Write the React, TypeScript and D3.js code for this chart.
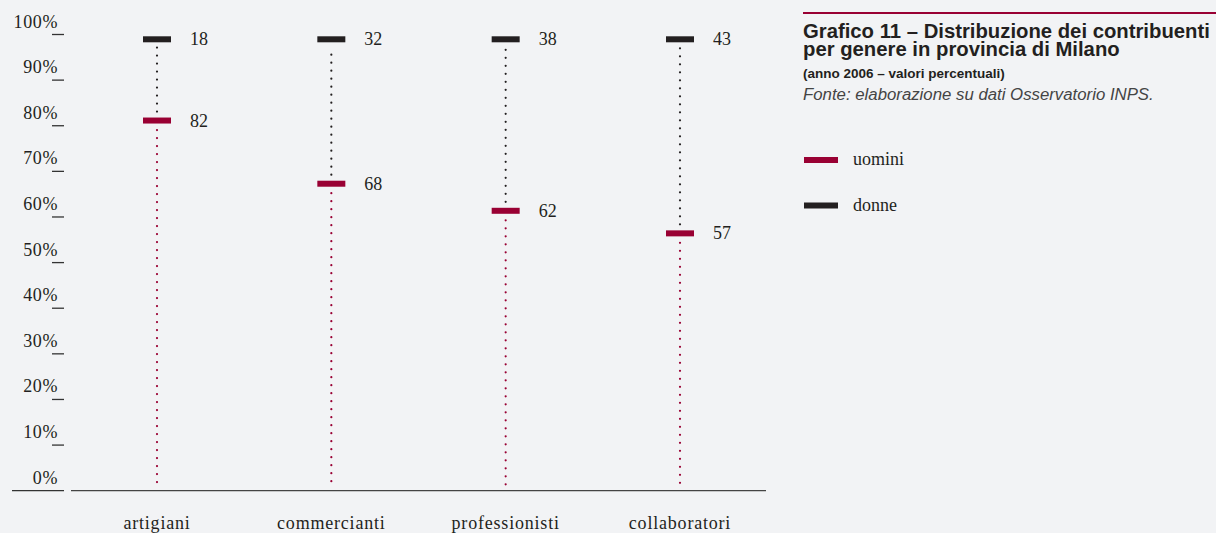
import React from "react";
import * as d3 from "d3";

const categories = ["artigiani", "commercianti", "professionisti", "collaboratori"];
const uomini = [82, 68, 62, 57];
const donne = [18, 32, 38, 43];
const yTicks = [0, 10, 20, 30, 40, 50, 60, 70, 80, 90, 100];
const titleLines = [
  "Grafico 11 – Distribuzione dei contribuenti",
  "per genere in provincia di Milano",
];
const subtitle = "(anno 2006 – valori percentuali)";
const source = "Fonte: elaborazione su dati Osservatorio INPS.";
const legendItems = ["uomini", "donne"];

const W = 1216;
const H = 533;
const RED = "#990033";
const BLACK = "#231f20";
const BG = "#f2f3f5";
const SERIF = "'Liberation Serif', 'DejaVu Serif', serif";
const SANS = "'Liberation Sans', Arial, sans-serif";

export default function App() {
  const x = d3.scalePoint<string>().domain(categories).range([157, 680]);
  const yTick = d3.scaleLinear().domain([0, 100]).range([490.7, 34.5]);
  const y = d3.scaleLinear().domain([0, 100]).range([490.6, 39.3]);
  const barW = 28;
  const barH = 6;

  return (
    <div style={{ position: "fixed", left: 0, top: 0, width: W, height: H, background: BG }}>
      <svg width={W} height={H} style={{ display: "block" }}>
        <rect width={W} height={H} fill={BG} />
        {/* y axis ticks */}
        {yTicks.map((t) => (
          <g key={t}>
            <line
              x1={t === 0 ? 12 : 52}
              x2={64}
              y1={yTick(t)}
              y2={yTick(t)}
              stroke="#333"
              strokeWidth={1.3}
            />
            <text
              x={58}
              y={yTick(t) - 7}
              textAnchor="end"
              fontFamily={SERIF}
              fontSize={18}
              letterSpacing={0.6}
              fill={BLACK}
            >
              {t}%
            </text>
          </g>
        ))}
        {/* x axis */}
        <line x1={71} x2={766} y1={y(0)} y2={y(0)} stroke="#444" strokeWidth={1.3} />
        {categories.map((c, i) => {
          const cx = x(c)!;
          const yr = y(uomini[i]);
          const yb = y(100);
          return (
            <g key={c}>
              <line
                x1={cx}
                x2={cx}
                y1={yr + 9.5}
                y2={y(0) - 3}
                stroke={RED}
                strokeWidth={2.2}
                strokeLinecap="round"
                strokeDasharray="0 8"
              />
              <line
                x1={cx}
                x2={cx}
                y1={yr - 9}
                y2={yb + 8}
                stroke={BLACK}
                strokeWidth={2.2}
                strokeLinecap="round"
                strokeDasharray="0 8"
              />
              <rect x={cx - barW / 2} y={yb - barH / 2} width={barW} height={barH} fill={BLACK} />
              <rect x={cx - barW / 2} y={yr - barH / 2} width={barW} height={barH} fill={RED} />
              <text x={cx + 33} y={yb + 6} fontFamily={SERIF} fontSize={18} fill={BLACK}>
                {donne[i]}
              </text>
              <text x={cx + 33} y={yr + 6} fontFamily={SERIF} fontSize={18} fill={BLACK}>
                {uomini[i]}
              </text>
              <text
                x={cx}
                y={529}
                textAnchor="middle"
                fontFamily={SERIF}
                fontSize={18}
                letterSpacing={0.8}
                fill={BLACK}
              >
                {c}
              </text>
            </g>
          );
        })}
        {/* title block */}
        <line x1={803} x2={1216} y1={13} y2={13} stroke={RED} strokeWidth={2} />
        <text x={803} y={38.3} fontFamily={SANS} fontWeight="bold" fontSize={20.3} fill={BLACK}>
          {titleLines.map((t, i) => (
            <tspan key={t} x={803} dy={i === 0 ? 0 : 17.8}>
              {t}
            </tspan>
          ))}
        </text>
        <text x={803} y={78} fontFamily={SANS} fontWeight="bold" fontSize={13.5} fill={BLACK}>
          {subtitle}
        </text>
        <text x={803} y={100} fontFamily={SANS} fontStyle="italic" fontSize={16.8} fill="#444">
          {source}
        </text>
        {/* legend */}
        {legendItems.map((l, i) => (
          <g key={l}>
            <rect x={804} y={157 + i * 45.5} width={34} height={6} fill={i === 0 ? RED : BLACK} />
            <text x={853} y={165 + i * 45.5} fontFamily={SERIF} fontSize={18} fill={BLACK}>
              {l}
            </text>
          </g>
        ))}
      </svg>
    </div>
  );
}
